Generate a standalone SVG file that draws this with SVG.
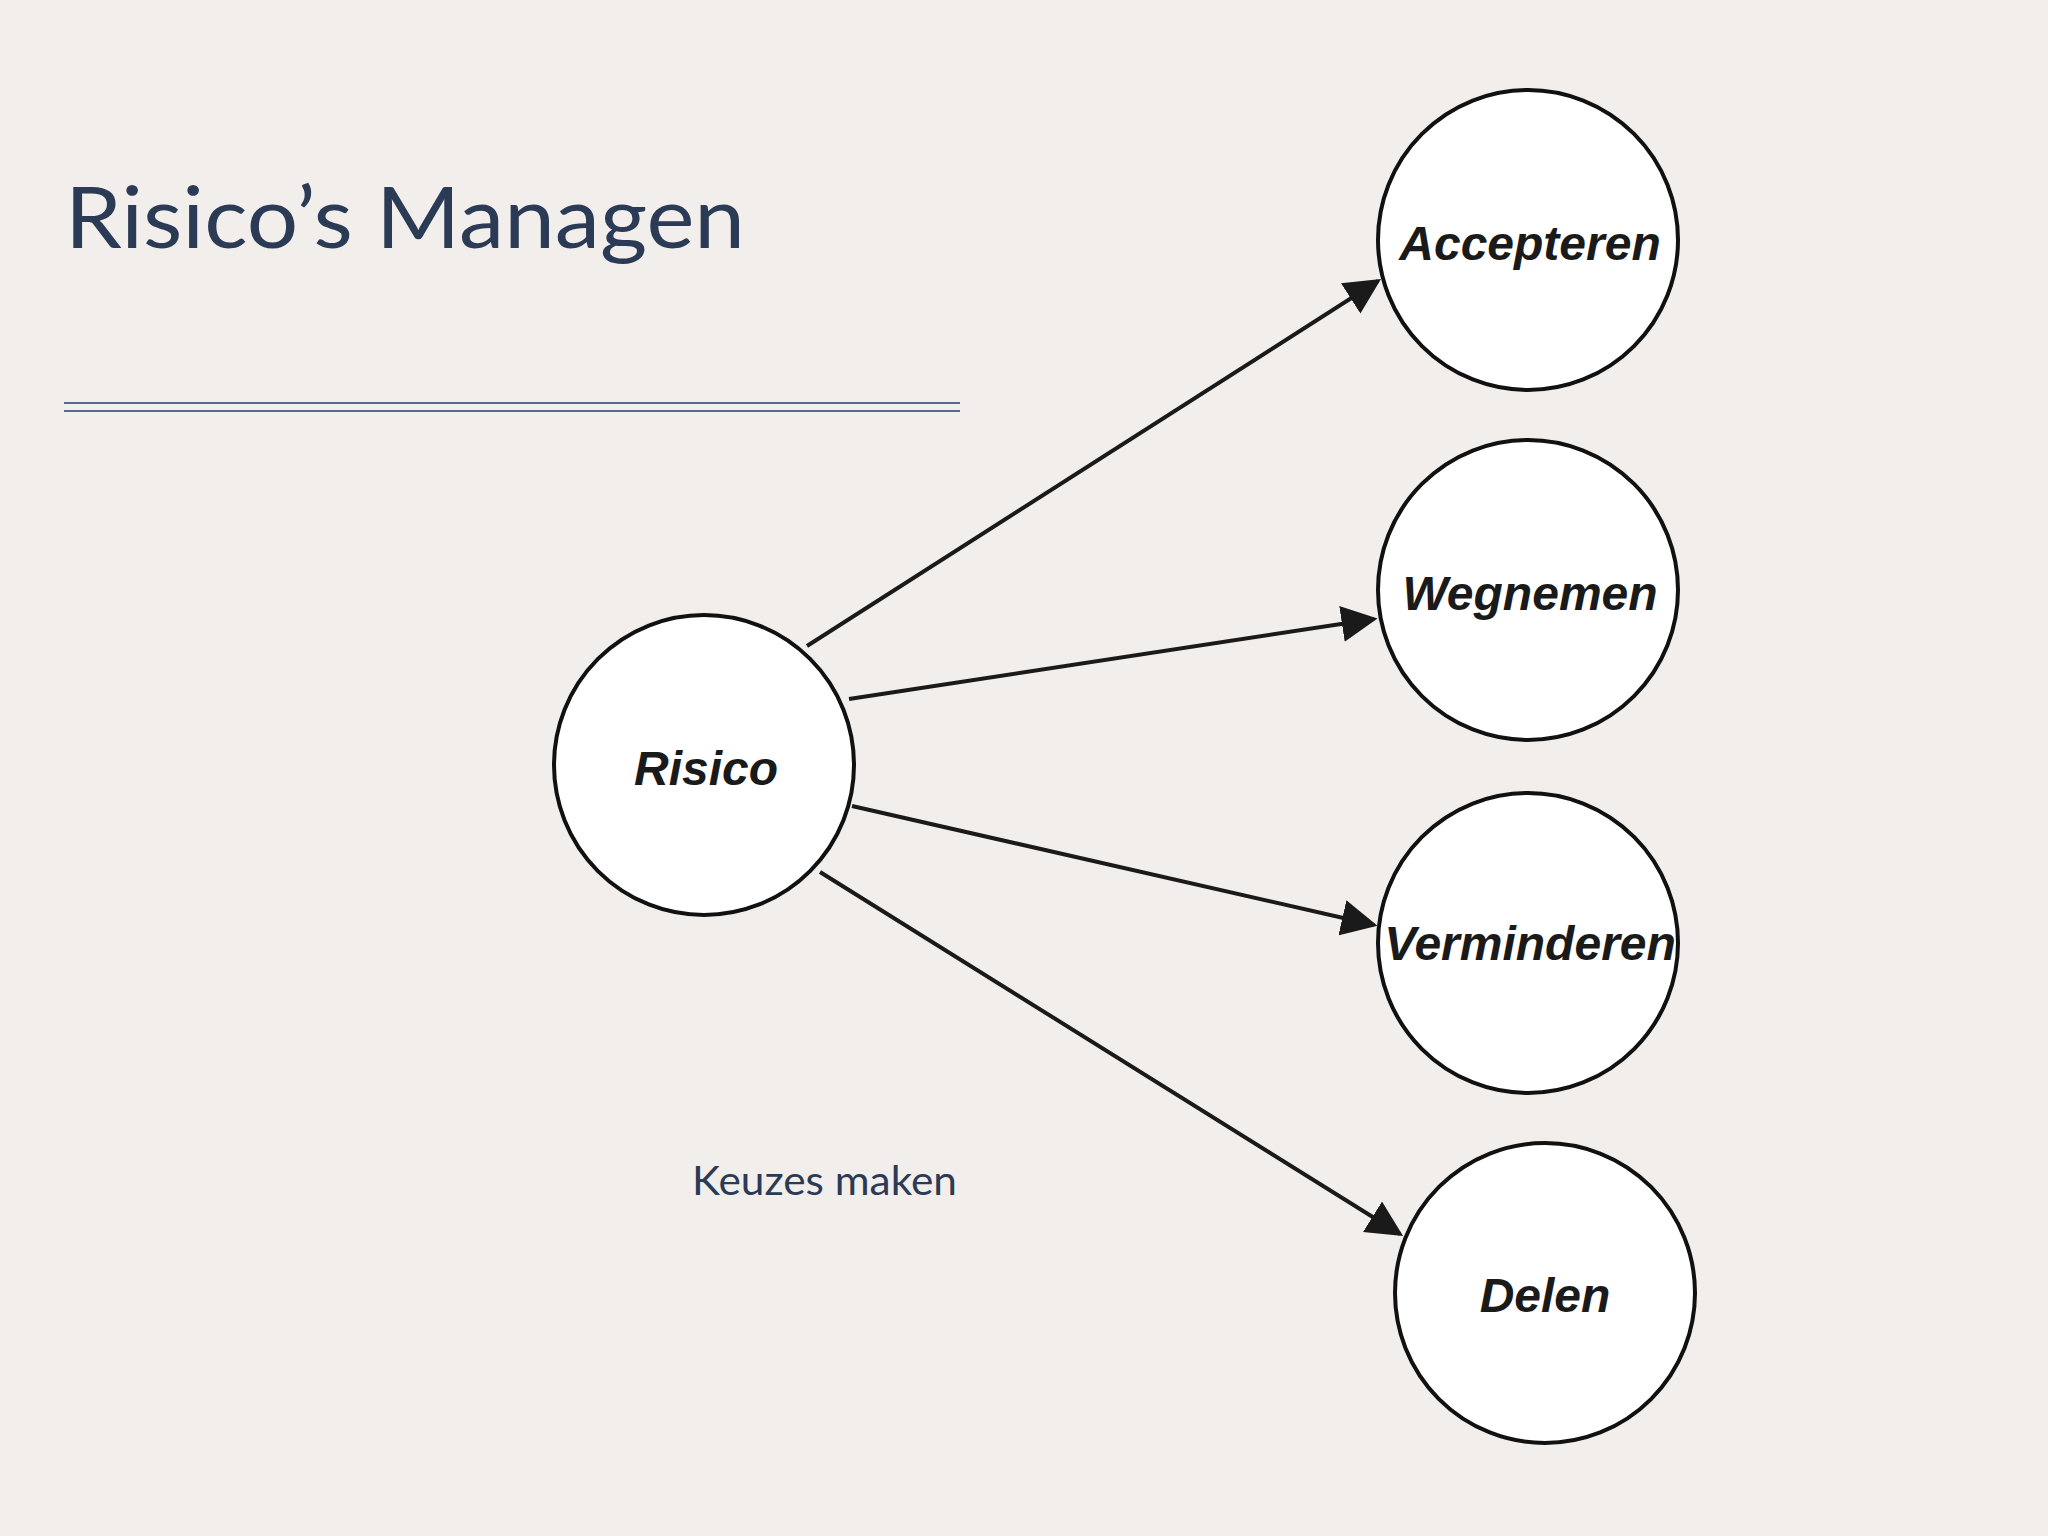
<svg xmlns="http://www.w3.org/2000/svg" width="2048" height="1536" viewBox="0 0 2048 1536">
<style>
.n{fill:#fff;stroke:#111;stroke-width:4}
.l{font-family:"Liberation Sans",Arial,sans-serif;font-weight:bold;font-style:italic;font-size:48px;fill:#1a1a1a;text-anchor:middle}
</style>
<defs><marker id="b" viewBox="0 0 10 10" refX="9" refY="5" markerWidth="9" markerHeight="9" orient="auto"><path d="M0,0L10,5L0,10z" fill="#1a1a1a"/></marker></defs>
<rect width="2048" height="1536" fill="#f2eeec"/>
<text x="65" y="248" font-family="Lato,'Open Sans',sans-serif" font-size="86" fill="#2b3a55" textLength="680" lengthAdjust="spacingAndGlyphs">Risico’s Managen</text>
<line x1="64" y1="403" x2="960" y2="403" stroke="#5a6b8a" stroke-width="2"/>
<line x1="64" y1="411" x2="960" y2="411" stroke="#5a6b8a" stroke-width="2"/>
<g id="connectors">
<path d="M807 646L1378 281" stroke="#1a1a1a" stroke-width="4" marker-end="url(#b)"/>
<path d="M849 699L1374 619" stroke="#1a1a1a" stroke-width="4" marker-end="url(#b)"/>
<path d="M852 806L1374 925" stroke="#1a1a1a" stroke-width="4" marker-end="url(#b)"/>
<path d="M820 872L1400 1234" stroke="#1a1a1a" stroke-width="4" marker-end="url(#b)"/>
</g>
<g id="risico"><circle class="n" cx="704" cy="765" r="150"/><text class="l" x="706" y="785">Risico</text></g>
<g id="accepteren"><circle class="n" cx="1528" cy="240" r="150"/><text class="l" x="1530" y="260">Accepteren</text></g>
<g id="wegnemen"><circle class="n" cx="1528" cy="590" r="150"/><text class="l" x="1530" y="610">Wegnemen</text></g>
<g id="verminderen"><circle class="n" cx="1528" cy="943" r="150"/><text class="l" x="1530" y="960">Verminderen</text></g>
<g id="delen"><circle class="n" cx="1545" cy="1293" r="150"/><text class="l" x="1545" y="1312">Delen</text></g>
<text x="692" y="1195" font-family="Lato,'Open Sans',sans-serif" font-size="40" fill="#2b3a55" textLength="265" lengthAdjust="spacingAndGlyphs">Keuzes maken</text>
</svg>
